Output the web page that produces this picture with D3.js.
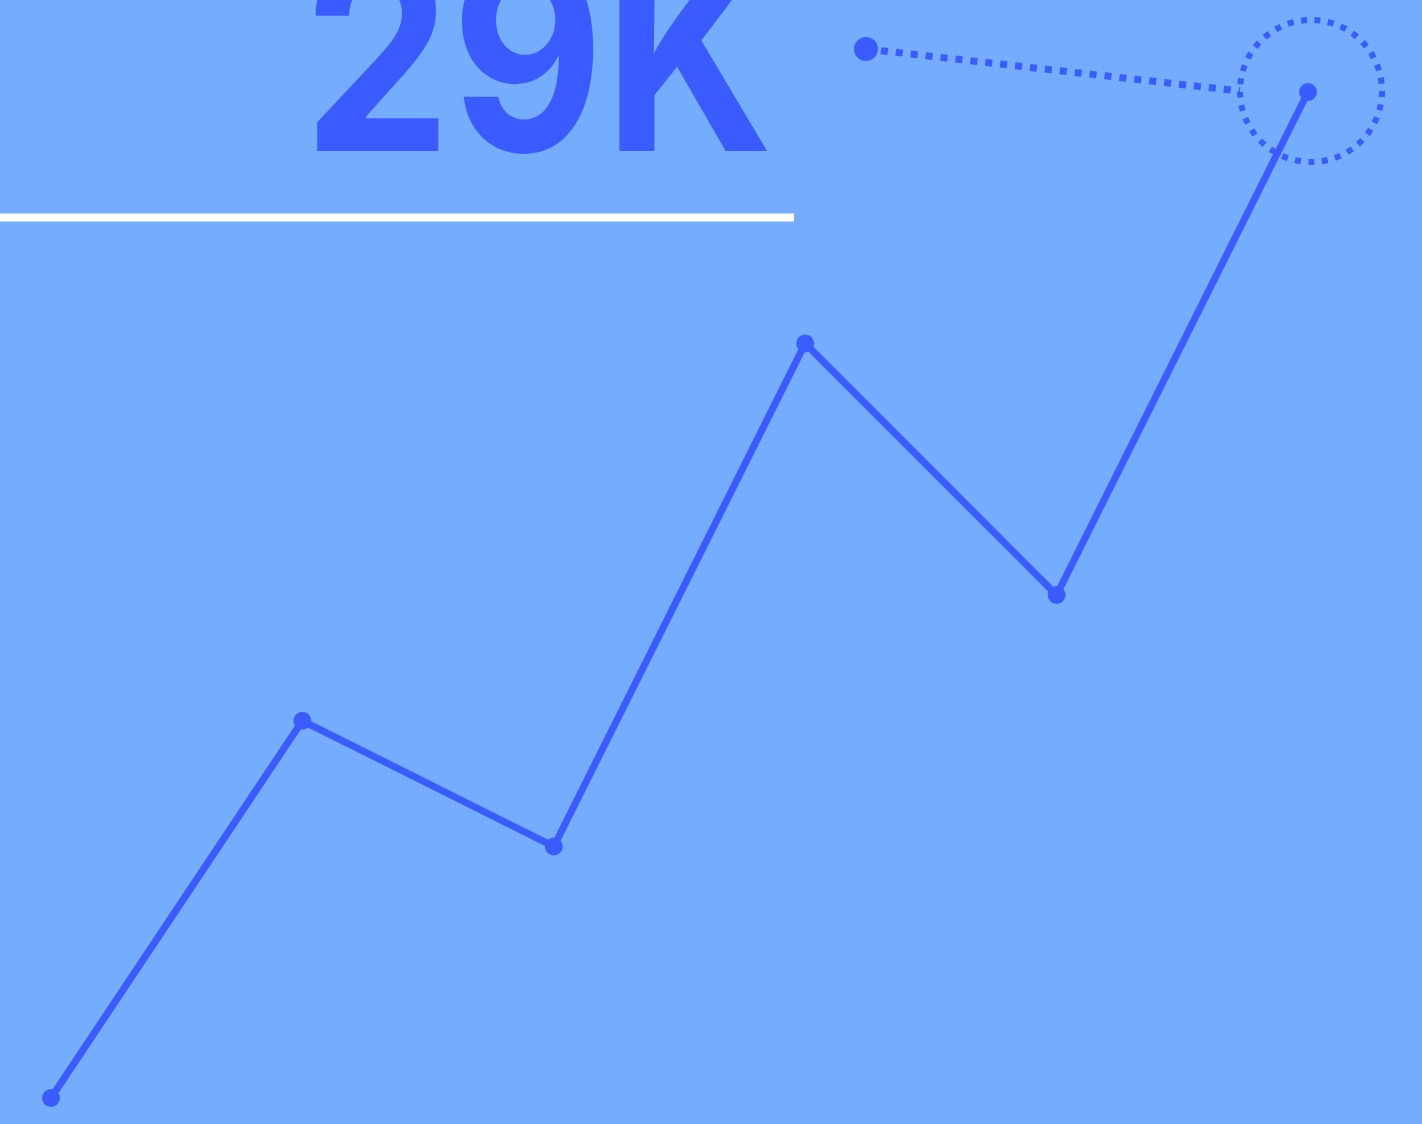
<!DOCTYPE html>
<html>
  <head>
    <meta http-equiv="Content-Type" content="text/html;charset=utf-8"/>
    <script src="https://cdn.jsdelivr.net/npm/d3@7"></script>
    <style>
      html, body { margin: 0; padding: 0; background: #76acfe; overflow: hidden; }
    </style>
  </head>
  <body>
    <script type="text/javascript">

var w = 1422, h = 1124;

// data
var steps = [0, 1, 2, 3, 4, 5];
var values = [0, 3, 2, 6, 4, 8];
var headline = "29K";

var blue = "#3a5cff";

var svg = d3.select("body").append("svg")
  .attr("width", w)
  .attr("height", h)
  .style("display", "block");

svg.append("rect")
  .attr("width", w)
  .attr("height", h)
  .attr("fill", "#76acfe");

var x = d3.scaleLinear().domain([0, 5]).range([51, 1308]);
var y = d3.scaleLinear().domain([0, 8]).range([1098, 92]);

// big number, cropped by the top edge
svg.append("text")
  .text(headline)
  .attr("x", 303)
  .attr("y", 151)
  .attr("textLength", 470)
  .attr("lengthAdjust", "spacingAndGlyphs")
  .style("font-family", "Inter, 'Liberation Sans', sans-serif")
  .style("font-weight", 700)
  .style("font-size", "268px")
  .attr("fill", blue);

// white rule under it
svg.append("line")
  .attr("x1", 0).attr("x2", 794)
  .attr("y1", 217.5).attr("y2", 217.5)
  .attr("stroke", "#fff")
  .attr("stroke-width", 8);

var line = d3.line()
  .x(function(d, i) { return x(steps[i]); })
  .y(function(d) { return y(d); });

svg.append("path")
  .datum(values)
  .attr("d", line)
  .attr("fill", "none")
  .attr("stroke", blue)
  .attr("stroke-width", 7)
  .attr("stroke-linejoin", "miter");

svg.selectAll("circle.pt")
  .data(values)
  .enter().append("circle")
  .attr("class", "pt")
  .attr("cx", function(d, i) { return x(steps[i]); })
  .attr("cy", function(d) { return y(d); })
  .attr("r", 9)
  .attr("fill", blue);

// callout on the last point
var last = values.length - 1;
var cx = x(steps[last]) + 3, cy = y(values[last]) - 1, cr = 71;

svg.append("circle")
  .attr("cx", cx)
  .attr("cy", cy)
  .attr("r", cr)
  .attr("fill", "none")
  .attr("stroke", blue)
  .attr("stroke-width", 6)
  .attr("stroke-dasharray", "6,7.5");

svg.append("line")
  .attr("x1", 866).attr("y1", 49)
  .attr("x2", cx - cr).attr("y2", cy)
  .attr("stroke", blue)
  .attr("stroke-width", 7)
  .attr("stroke-dasharray", "7,8");

svg.append("circle")
  .attr("cx", 866)
  .attr("cy", 49)
  .attr("r", 12)
  .attr("fill", blue);

    </script>
  </body>
</html>
